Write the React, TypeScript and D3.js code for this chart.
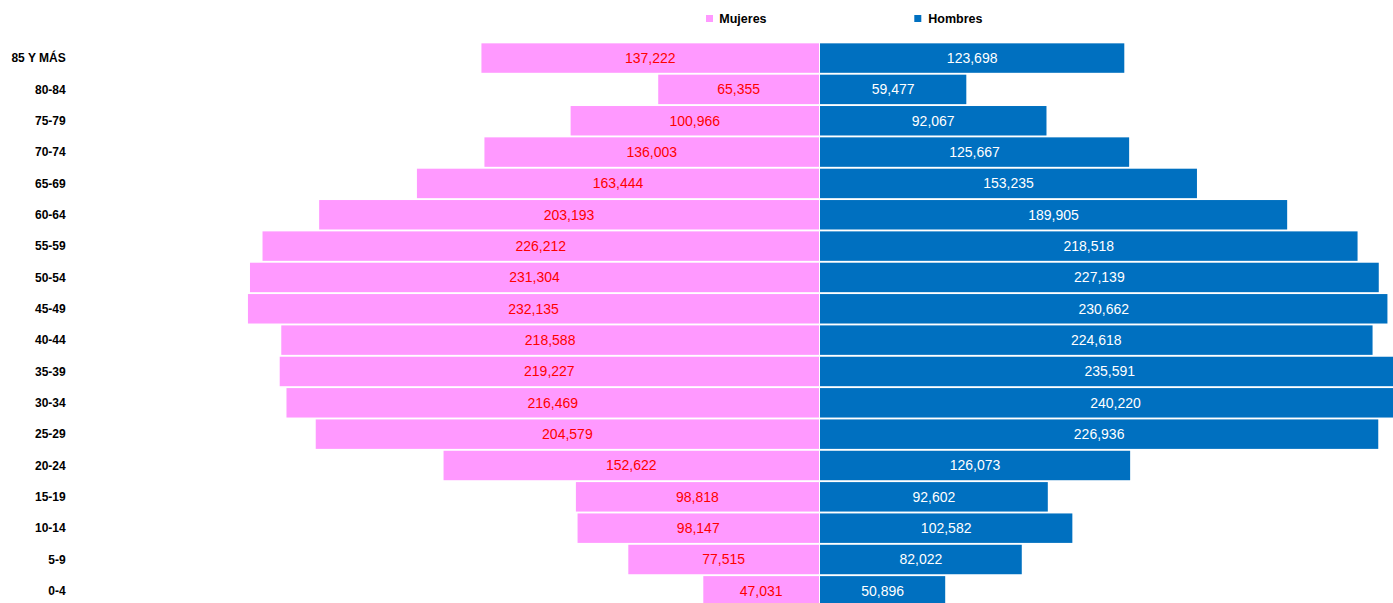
import React from "react";
import * as d3 from "d3";

const categories = ["85 Y MÁS","80-84","75-79","70-74","65-69","60-64","55-59","50-54","45-49","40-44","35-39","30-34","25-29","20-24","15-19","10-14","5-9","0-4"];
const mujeres = [137222,65355,100966,136003,163444,203193,226212,231304,232135,218588,219227,216469,204579,152622,98818,98147,77515,47031];
const hombres = [123698,59477,92067,125667,153235,189905,218518,227139,230662,224618,235591,240220,226936,126073,92602,102582,82022,50896];
const seriesNames = ["Mujeres","Hombres"];

const W = 1393, H = 603;
const CX = 819.5;
const PINK = "#ff99ff", BLUE = "#0070c0";

export default function App() {
  const x = d3.scaleLinear().domain([0, 250000]).range([0, 615]);
  const y = d3.scaleBand<string>().domain(categories).range([42.4, 42.4 + 18 * 31.34]).paddingInner(0.06).paddingOuter(0.03);
  const fmt = d3.format(",");
  const font = "'Liberation Sans', Arial, sans-serif";
  return (
    <svg width={W} height={H} style={{ position: "absolute", left: 0, top: 0, fontFamily: font }}>
      <rect width={W} height={H} fill="#fff" />
      {/* legend */}
      <g>
        <rect x={706} y={15} width={7} height={7} fill={PINK} />
        <text x={719.3} y={22.7} fontSize={12.5} fontWeight="bold" fill="#000">{seriesNames[0]}</text>
        <rect x={914.3} y={15} width={7} height={7} fill={BLUE} />
        <text x={928.3} y={22.7} fontSize={12.5} fontWeight="bold" fill="#000">{seriesNames[1]}</text>
      </g>
      {categories.map((c, i) => {
        const y0 = y(c)!;
        const bh = y.bandwidth();
        const wm = x(mujeres[i]);
        const wh = x(hombres[i]);
        const cy = y0 + bh / 2;
        return (
          <g key={c}>
            <text x={65.7} y={cy} dy="0.35em" textAnchor="end" fontSize={12} fontWeight="bold" fill="#000">{c}</text>
            <rect x={CX - 0.5 - wm} y={y0} width={wm} height={bh} fill={PINK} />
            <rect x={CX + 0.5} y={y0} width={wh} height={bh} fill={BLUE} />
            <text x={CX - 0.5 - wm / 2} y={cy} dy="0.35em" textAnchor="middle" fontSize={14} fill="#ff0000">{fmt(mujeres[i])}</text>
            <text x={CX + 0.5 + wh / 2} y={cy} dy="0.35em" textAnchor="middle" fontSize={14} fill="#fff">{fmt(hombres[i])}</text>
          </g>
        );
      })}
    </svg>
  );
}
